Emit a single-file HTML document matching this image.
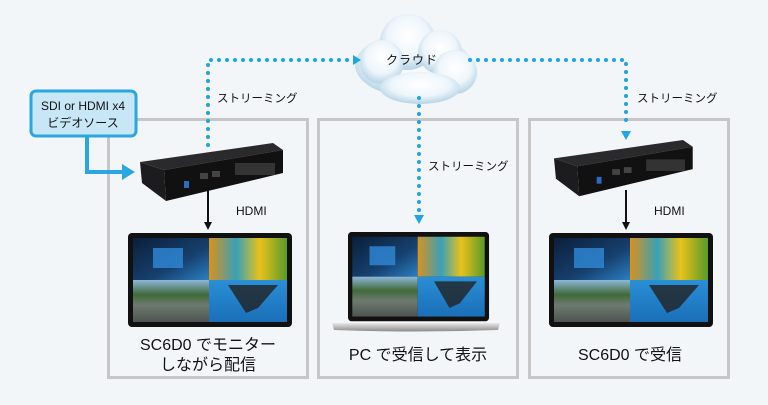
<!DOCTYPE html>
<html><head><meta charset="utf-8"><style>
html,body{margin:0;padding:0;background:#f3f6f9;}
svg{display:block}
text{font-family:"Liberation Sans","Noto Sans CJK JP",sans-serif;fill:#111;}
</style></head><body>
<svg width="768" height="405" viewBox="0 0 768 405" xmlns="http://www.w3.org/2000/svg">
<defs>
<radialGradient id="cl" cx="50%" cy="40%" r="60%">
<stop offset="0" stop-color="#ffffff"/><stop offset="0.6" stop-color="#eef6fb"/><stop offset="1" stop-color="#b5d3e6"/>
</radialGradient>
<linearGradient id="tl" x1="0" y1="0" x2="1" y2="1"><stop offset="0" stop-color="#0b1f3a"/><stop offset="0.6" stop-color="#16406e"/><stop offset="1" stop-color="#2a7fc4"/></linearGradient>
<linearGradient id="tr" x1="0" y1="0" x2="1" y2="0"><stop offset="0" stop-color="#d9921c"/><stop offset="0.35" stop-color="#3aa0b8"/><stop offset="0.65" stop-color="#e8c21a"/><stop offset="1" stop-color="#5a9a2a"/></linearGradient>
<linearGradient id="bl" x1="0" y1="0" x2="0" y2="1"><stop offset="0" stop-color="#8fb7d8"/><stop offset="0.35" stop-color="#3f6a38"/><stop offset="0.6" stop-color="#6e7a70"/><stop offset="1" stop-color="#4e5350"/></linearGradient>
<linearGradient id="br" x1="0" y1="0" x2="0" y2="1"><stop offset="0" stop-color="#2a8fd6"/><stop offset="1" stop-color="#1a6fb8"/></linearGradient>
<linearGradient id="base" x1="0" y1="0" x2="0" y2="1"><stop offset="0" stop-color="#e8e8e8"/><stop offset="1" stop-color="#8a8a8a"/></linearGradient>
<g id="dev">
<polygon points="0,19 133,0 143,7 24,27" fill="#2a2a2c"/>
<polygon points="24,27 143,7 143,30 26,58" fill="#111"/>
<polygon points="0,19 24,27 26,58 2,40" fill="#1c1c1e"/>
<rect x="60" y="30" width="8" height="6" fill="#444"/><rect x="72" y="28" width="8" height="6" fill="#444"/>
<rect x="95" y="20" width="40" height="12" fill="#333"/>
<rect x="44" y="38" width="5" height="7" fill="#2a6cc4"/>
</g>
<g id="scr">
<rect x="0" y="0" width="164" height="94" rx="4" fill="#111"/>
<rect x="5" y="5" width="76" height="42" fill="url(#tl)"/>
<rect x="81" y="5" width="78" height="42" fill="url(#tr)"/>
<rect x="5" y="47" width="76" height="42" fill="url(#bl)"/>
<rect x="81" y="47" width="78" height="42" fill="url(#br)"/>
<rect x="25" y="15" width="30" height="20" fill="#2f8ad8" opacity="0.8"/>
<polygon points="100,52 150,52 130,75 118,80" fill="#222" opacity="0.8"/>
</g>
</defs>

<!-- panels -->
<rect x="108.5" y="119.5" width="199" height="258" fill="none" stroke="#c6c6c6" stroke-width="3"/>
<rect x="318.5" y="119.5" width="199" height="258" fill="none" stroke="#c6c6c6" stroke-width="3"/>
<rect x="529.5" y="119.5" width="199" height="258" fill="none" stroke="#c6c6c6" stroke-width="3"/>

<!-- cloud -->
<g fill="url(#cl)">
<ellipse cx="413" cy="65" rx="58" ry="32"/>
<circle cx="408" cy="42" r="28"/>
<circle cx="440" cy="52" r="22"/>
<circle cx="382" cy="62" r="22"/>
<circle cx="455" cy="72" r="22"/>
<ellipse cx="420" cy="88" rx="40" ry="16"/>
</g>
<text x="412" y="64" font-size="12" text-anchor="middle" letter-spacing="1">クラウド</text>

<!-- dotted lines -->
<g stroke="#1ea5e3" stroke-width="4" stroke-linecap="round" stroke-dasharray="0 8" fill="none">
<polyline points="208,145 208,60 352,60"/>
<polyline points="470,60 626,60 626,128"/>
<polyline points="419,98 419,214"/>
</g>
<g fill="#1ea5e3">
<polygon points="353,55 361,60 353,65"/>
<polygon points="621,131 631,131 626,140"/>
<polygon points="414,215 424,215 419,224"/>
</g>
<text x="217" y="102" font-size="11.5">ストリーミング</text>
<text x="428" y="170" font-size="11.5">ストリーミング</text>
<text x="637" y="102" font-size="11.5">ストリーミング</text>

<!-- source box -->
<rect x="31" y="91" width="105" height="45" rx="5" fill="#c8e7f6" stroke="#2aa6e0" stroke-width="3"/>
<text x="83" y="110" font-size="12" text-anchor="middle">SDI or HDMI x4</text>
<text x="83" y="127" font-size="12" text-anchor="middle">ビデオソース</text>
<polyline points="87,137 87,172 124,172" fill="none" stroke="#2aa6e0" stroke-width="4"/>
<polygon points="122,164 135,172 122,180" fill="#2aa6e0"/>

<!-- devices -->
<use href="#dev" transform="translate(140,143)"/>
<use href="#dev" transform="translate(554,140) scale(0.97)"/>

<!-- HDMI arrows -->
<g stroke="#111" stroke-width="2"><line x1="208" y1="190" x2="208" y2="223"/><line x1="626" y1="190" x2="626" y2="223"/></g>
<polygon points="204,222 212,222 208,230" fill="#111"/>
<polygon points="622,222 630,222 626,230" fill="#111"/>
<text x="236" y="215" font-size="12">HDMI</text>
<text x="654" y="215" font-size="12">HDMI</text>

<!-- screens -->
<use href="#scr" transform="translate(128,233)"/>
<use href="#scr" transform="translate(549,233)"/>
<use href="#scr" transform="translate(348,232) scale(0.86,0.95)"/>
<path d="M332,323 L500,323 L498,330 Q416,333 334,330 Z" fill="url(#base)"/>

<!-- captions -->
<text x="208" y="350" font-size="16" text-anchor="middle">SC6D0 でモニター</text>
<text x="208" y="370" font-size="16" text-anchor="middle">しながら配信</text>
<text x="418" y="360" font-size="16" text-anchor="middle">PC で受信して表示</text>
<text x="630" y="360" font-size="16" text-anchor="middle">SC6D0 で受信</text>
</svg>
</body></html>
